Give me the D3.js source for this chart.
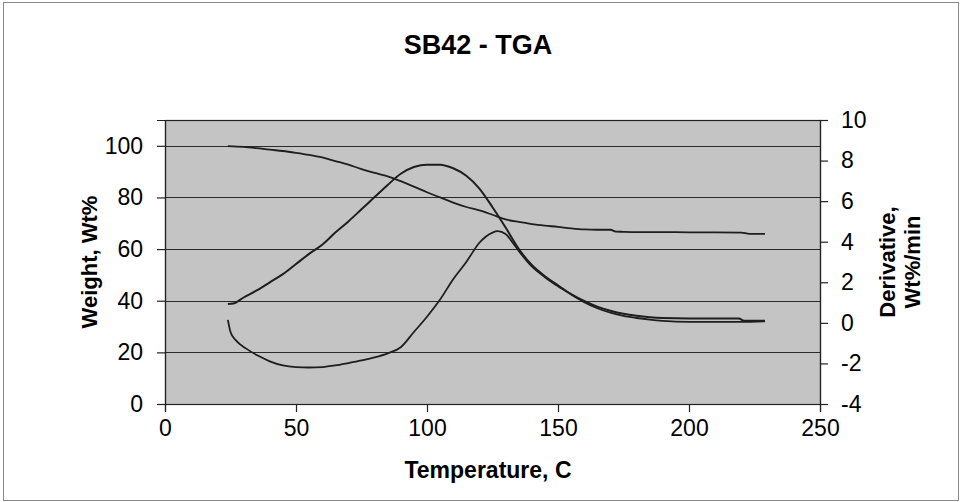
<!DOCTYPE html>
<html>
<head>
<meta charset="utf-8">
<script src="https://cdn.jsdelivr.net/npm/d3@7"></script>
<style>
  html, body { margin: 0; padding: 0; background: #fff; }
  svg { display: block; }
  text { font-family: "Liberation Sans", Arial, sans-serif; fill: #000; }
</style>
</head>
<body>
<svg id="chart" width="961" height="502"></svg>
<script>
// Weight loss curve (left axis, Wt%)
const weightTemps = [24, 30, 35, 40, 45, 50, 55, 60, 65, 70, 75, 80, 85, 90, 95, 100, 105, 110, 115, 120, 125, 130, 135, 140, 145, 150, 155, 160, 165, 170, 172, 175, 180, 190, 200, 210, 220, 223, 229];
const weightValues = [99.9, 99.6, 99.1, 98.5, 98.0, 97.3, 96.5, 95.5, 94.1, 92.7, 91.0, 89.5, 88.2, 86.3, 84.2, 82.0, 80.0, 78.0, 76.3, 75.0, 73.3, 71.5, 70.5, 69.7, 69.1, 68.6, 68.0, 67.6, 67.5, 67.5, 66.8, 66.7, 66.6, 66.6, 66.5, 66.5, 66.4, 65.9, 65.9];

// Derivative curves (right axis, Wt%/min)
const derivATemps = [24, 26, 30, 35, 40, 45, 50, 55, 60, 65, 70, 75, 80, 85, 90, 95, 100, 105, 110, 115, 120, 125, 130, 135, 140, 145, 150, 155, 160, 165, 170, 175, 180, 185, 190, 200, 210, 219, 221, 229];
const derivAValues = [0.93, 0.95, 1.25, 1.6, 2.0, 2.4, 2.9, 3.4, 3.85, 4.45, 5.0, 5.6, 6.2, 6.8, 7.35, 7.68, 7.8, 7.8, 7.62, 7.25, 6.62, 5.7, 4.7, 3.65, 2.85, 2.3, 1.85, 1.42, 1.08, 0.8, 0.6, 0.45, 0.35, 0.28, 0.24, 0.22, 0.22, 0.22, 0.1, 0.1];

const derivBTemps = [24, 25, 27, 31, 36, 40, 45, 50, 55, 60, 65, 70, 75, 80, 85, 90, 95, 100, 105, 110, 115, 120, 125, 127, 130, 133, 135, 140, 145, 150, 155, 160, 165, 170, 175, 180, 185, 190, 200, 210, 220, 229];
const derivBValues = [0.15, -0.45, -0.85, -1.27, -1.65, -1.9, -2.1, -2.18, -2.2, -2.18, -2.1, -1.98, -1.85, -1.7, -1.5, -1.2, -0.45, 0.3, 1.15, 2.15, 3.0, 3.95, 4.45, 4.52, 4.38, 3.9, 3.55, 2.78, 2.25, 1.8, 1.4, 1.02, 0.72, 0.5, 0.34, 0.24, 0.16, 0.1, 0.05, 0.05, 0.05, 0.08];

// Axis ticks
const xTicks = [0, 50, 100, 150, 200, 250];
const leftTicks = [0, 20, 40, 60, 80, 100];
const rightTicks = [-4, -2, 0, 2, 4, 6, 8, 10];

const svg = d3.select("#chart");
const W = 961, H = 502;
const plot = { left: 165, right: 820, top: 120, bottom: 404 };

// Outer chart frame
svg.append("rect")
  .attr("x", 3.5).attr("y", 2.5)
  .attr("width", W - 6).attr("height", H - 4)
  .attr("fill", "#fff").attr("stroke", "#8a8a8a").attr("stroke-width", 1);

const x = d3.scaleLinear().domain([0, 250]).range([plot.left, plot.right]);
const yL = d3.scaleLinear().domain([0, 110]).range([plot.bottom, plot.top]);
const yR = d3.scaleLinear().domain([-4, 10]).range([plot.bottom, plot.top]);

// Plot area fill
svg.append("rect")
  .attr("x", plot.left).attr("y", plot.top)
  .attr("width", plot.right - plot.left).attr("height", plot.bottom - plot.top)
  .attr("fill", "#c4c4c4");

// Horizontal gridlines from the left axis
svg.append("g")
  .selectAll("line")
  .data(leftTicks.filter(d => d > 0))
  .join("line")
  .attr("x1", plot.left).attr("x2", plot.right)
  .attr("y1", d => Math.round(yL(d)) + 0.5).attr("y2", d => Math.round(yL(d)) + 0.5)
  .attr("stroke", "#2a2a2a").attr("stroke-width", 1);

// Plot border
svg.append("rect")
  .attr("x", plot.left + 0.5).attr("y", plot.top + 0.5)
  .attr("width", plot.right - plot.left).attr("height", plot.bottom - plot.top)
  .attr("fill", "none").attr("stroke", "#222").attr("stroke-width", 1.2);

// Axes
const tickFont = 23;
const gx = svg.append("g")
  .attr("transform", `translate(0,${plot.bottom})`)
  .call(d3.axisBottom(x).tickValues(xTicks).tickSize(8).tickPadding(8).tickFormat(d3.format("d")));
const gl = svg.append("g")
  .attr("transform", `translate(${plot.left},0)`)
  .call(d3.axisLeft(yL).tickValues(leftTicks).tickSize(8).tickPadding(14).tickFormat(d3.format("d")));
const gr = svg.append("g")
  .attr("transform", `translate(${plot.right},0)`)
  .call(d3.axisRight(yR).tickValues(rightTicks).tickSize(8).tickPadding(13).tickFormat(d3.format("d")));

[gx, gl, gr].forEach(g => {
  g.select(".domain").attr("stroke", "#222").attr("stroke-width", 1.2);
  g.selectAll(".tick line").attr("stroke", "#222").attr("stroke-width", 1.2);
  g.selectAll(".tick text")
    .style("font-family", '"Liberation Sans", Arial, sans-serif')
    .style("font-size", tickFont + "px")
    .attr("fill", "#000");
});
// Negative labels use a plain hyphen
gr.selectAll(".tick text").text(d => String(d));

// Data lines
const line = (xs, ys, yScale) => d3.line()
  .x((d, i) => x(xs[i]))
  .y((d, i) => yScale(ys[i]))
  .curve(d3.curveMonotoneX)(xs);

const lineColor = "#1e1e1e";
svg.append("path")
  .attr("d", line(weightTemps, weightValues, yL))
  .attr("fill", "none").attr("stroke", lineColor).attr("stroke-width", 1.8);
svg.append("path")
  .attr("d", line(derivATemps, derivAValues, yR))
  .attr("fill", "none").attr("stroke", lineColor).attr("stroke-width", 2);
svg.append("path")
  .attr("d", line(derivBTemps, derivBValues, yR))
  .attr("fill", "none").attr("stroke", lineColor).attr("stroke-width", 1.8);

// Titles
svg.append("text")
  .attr("x", 478).attr("y", 54)
  .attr("text-anchor", "middle")
  .style("font-size", "27px").style("font-weight", "bold")
  .text("SB42 - TGA");

svg.append("text")
  .attr("x", 488).attr("y", 478)
  .attr("text-anchor", "middle")
  .style("font-size", "23px").style("font-weight", "bold")
  .text("Temperature, C");

const midY = (plot.top + plot.bottom) / 2;
svg.append("text")
  .attr("transform", `translate(97,${midY}) rotate(-90)`)
  .attr("text-anchor", "middle")
  .style("font-size", "22px").style("font-weight", "bold")
  .text("Weight, Wt%");

const rt = svg.append("text")
  .attr("transform", `translate(895,${midY}) rotate(-90)`)
  .attr("text-anchor", "middle")
  .style("font-size", "22px").style("font-weight", "bold");
rt.append("tspan").attr("x", 0).attr("dy", 0).text("Derivative,");
rt.append("tspan").attr("x", 0).attr("dy", 25).text("Wt%/min");
</script>
</body>
</html>
